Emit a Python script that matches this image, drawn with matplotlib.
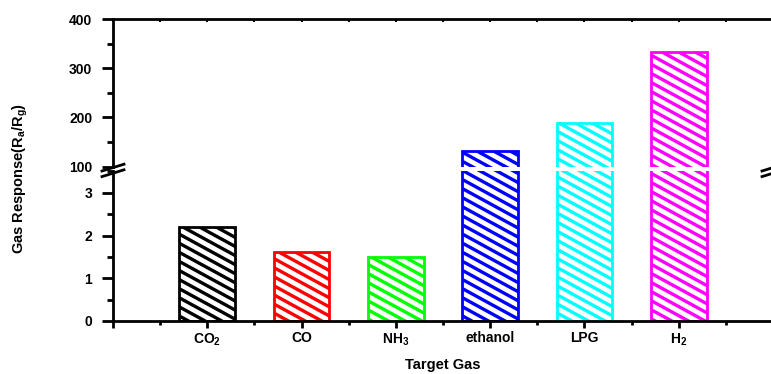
import numpy as np
import matplotlib
matplotlib.use('Agg')
import matplotlib.pyplot as plt
import matplotlib.hatch as mhatch
from matplotlib.path import Path
from matplotlib.lines import Line2D
from matplotlib.ticker import MultipleLocator, FixedLocator

# ---------------- data ----------------
gases = ['CO$_2$', 'CO', 'NH$_3$', 'ethanol', 'LPG', 'H$_2$']
response = [2.21, 1.62, 1.51, 131, 188, 333]
colors = ['#000000', '#FF0000', '#00FF00', '#0000FF', '#00FFFF', '#FF00FF']
upper_ticks = [100, 200, 300, 400]
lower_ticks = [0, 1, 2, 3]


# shallower "\" hatch (Origin style): 11 lines per inch, slope 6/11
class ShallowSouthEastHatch(mhatch.HatchPatternBase):
    def __init__(self, hatch, density):
        cnt = hatch.count('\\') + hatch.count('x') + hatch.count('X')
        self.num_lines = int(round(cnt * density * 11 / 12))
        if self.num_lines:
            self.slope = 6 / 11 if self.num_lines == 11 else 0.5
            self.ks = np.arange(-3, int(np.ceil((1 + self.slope) * self.num_lines)) + 4)
            self.num_vertices = 2 * len(self.ks)
        else:
            self.num_vertices = 0

    def set_vertices_and_codes(self, vertices, codes):
        c = self.ks / self.num_lines
        x0, x1 = -0.2, 1.2
        vertices[0::2, 0] = x0
        vertices[0::2, 1] = c - self.slope * x0
        vertices[1::2, 0] = x1
        vertices[1::2, 1] = c - self.slope * x1
        codes[0::2] = Path.MOVETO
        codes[1::2] = Path.LINETO


mhatch._hatch_types = [ShallowSouthEastHatch if t is mhatch.SouthEastHatch else t
                       for t in mhatch._hatch_types]

plt.rcParams.update({
    'font.family': ['Liberation Sans', 'DejaVu Sans'],
    'font.weight': 'bold',
    'mathtext.fontset': 'custom',
    'mathtext.rm': 'Liberation Sans:bold',
    'mathtext.it': 'Liberation Sans:bold',
    'mathtext.bf': 'Liberation Sans:bold',
    'hatch.linewidth': 2.4,
    'axes.linewidth': 2.0,
})

W, H = 771, 374
fig = plt.figure(figsize=(W / 100, H / 100), dpi=100)


def fx(px):
    return px / W


def fy(py):
    return 1 - py / H


left_px, right_px = 113, 773
left = fx(left_px)
width = (right_px - left_px) / W
ax_top = fig.add_axes([left, fy(166.5), width, fy(19.3) - fy(166.5)])
ax_bot = fig.add_axes([left, fy(321), width, fy(171.5) - fy(321)])

x = np.arange(1, len(gases) + 1)
for ax in (ax_top, ax_bot):
    ax.bar(x, response, width=0.59, color='white', edgecolor=colors,
           linewidth=2.0, hatch='\\\\')
    ax.set_xlim(0, 7)
    ax.spines['right'].set_visible(True)
    ax.tick_params(axis='y', which='major', direction='out', length=8, width=2,
                   pad=7, labelsize=10, right=False)
    ax.tick_params(axis='y', which='minor', direction='out', length=4.5, width=2,
                   right=False)

# upper panel
ax_top.set_ylim(100, 400)
ax_top.yaxis.set_major_locator(FixedLocator(upper_ticks))
ax_top.yaxis.set_minor_locator(MultipleLocator(50))
ax_top.spines['bottom'].set_visible(False)
ax_top.xaxis.set_ticks_position('top')
ax_top.xaxis.set_major_locator(MultipleLocator(1))
ax_top.xaxis.set_minor_locator(MultipleLocator(0.5))
ax_top.tick_params(axis='x', which='both', direction='in', length=2, width=1.5,
                   labeltop=False, labelbottom=False, bottom=False)

# lower panel
ax_bot.set_ylim(0, 3.5)
ax_bot.yaxis.set_major_locator(FixedLocator(lower_ticks))
ax_bot.yaxis.set_minor_locator(MultipleLocator(0.5))
ax_bot.spines['top'].set_visible(False)
ax_bot.set_xticks(np.arange(0, 8))
ax_bot.set_xticklabels([''] + gases + [''])
ax_bot.xaxis.set_minor_locator(MultipleLocator(0.5))
ax_bot.tick_params(axis='x', which='major', direction='out', length=5, width=2,
                   pad=2.5, labelsize=10, top=False)
ax_bot.tick_params(axis='x', which='minor', direction='out', length=3, width=2,
                   top=False)

# break marks on both vertical axes
for cx in (left_px, right_px):
    for dy in (0, 5.6):
        fig.add_artist(Line2D([fx(cx - 11), fx(cx + 11)],
                              [fy(171 + dy), fy(164.2 + dy)],
                              color='black', lw=2.0, transform=fig.transFigure,
                              clip_on=False))

fig.text(fx(20), fy(178.5), 'Gas Response(R$_a$/R$_g$)', rotation=90,
         ha='center', va='center', fontsize=10.5, fontweight='bold')
fig.text(fx(443), fy(365), 'Target Gas', ha='center', va='center',
         fontsize=10.5, fontweight='bold')

fig.savefig('out.png', dpi=100)
